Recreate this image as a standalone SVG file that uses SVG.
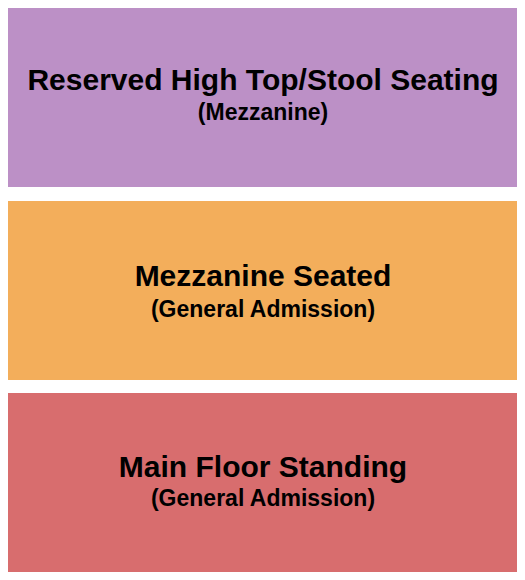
<svg xmlns="http://www.w3.org/2000/svg" width="525" height="580" viewBox="0 0 525 580">
<style>
.t{font-family:"Liberation Sans",Arial,sans-serif;font-weight:bold;fill:#000;text-anchor:middle}
.h{font-size:30px}
.s{font-size:23px}
</style>
<rect width="525" height="580" fill="#fff"/>
<g id="reserved">
<rect x="8" y="8" width="509" height="179" fill="#BC90C6"/>
<text class="t h" x="263" y="90">Reserved High Top/Stool Seating</text>
<text class="t s" x="263" y="120">(Mezzanine)</text>
</g>
<g id="mezzanine">
<rect x="8" y="201" width="509" height="179" fill="#F3AE5B"/>
<text class="t h" x="263" y="286">Mezzanine Seated</text>
<text class="t s" x="263" y="317">(General Admission)</text>
</g>
<g id="mainfloor">
<rect x="8" y="393" width="509" height="179" fill="#D86D6E"/>
<text class="t h" x="263" y="477">Main Floor Standing</text>
<text class="t s" x="263" y="506">(General Admission)</text>
</g>
<g id="connectors"/>
</svg>
